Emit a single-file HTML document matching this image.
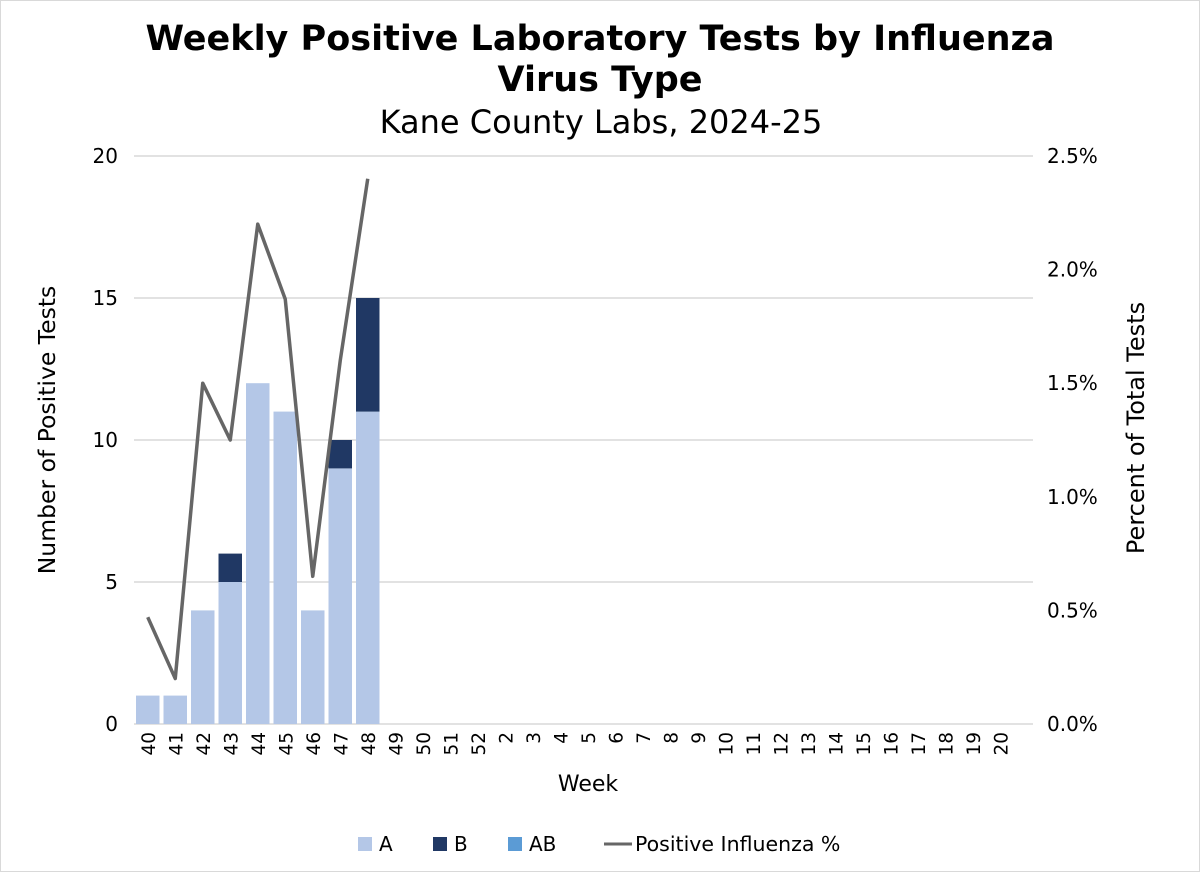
<!DOCTYPE html>
<html><head><meta charset="utf-8"><style>
body{margin:0;background:#fff;font-family:"DejaVu Sans","Liberation Sans",sans-serif;}
#wrap{position:relative;width:1198px;height:870px;border:1px solid #d9d9d9;}
</style></head><body>
<div id="wrap">
<svg id="chart" width="1198" height="870" xmlns="http://www.w3.org/2000/svg">
<text x="599" y="49" text-anchor="middle" font-size="35" font-weight="bold" fill="#000">Weekly Positive Laboratory Tests by Influenza</text>
<text x="599" y="90" text-anchor="middle" font-size="35" font-weight="bold" fill="#000">Virus Type</text>
<text x="600" y="132" text-anchor="middle" font-size="32" fill="#000">Kane County Labs, 2024-25</text>
<g id="grid"></g><g id="bars"></g><g id="line"></g><g id="axes"></g>
<text transform="translate(54,429) rotate(-90)" text-anchor="middle" font-size="23.5" fill="#000">Number of Positive Tests</text>
<text transform="translate(1143,427) rotate(-90)" text-anchor="middle" font-size="24" fill="#000">Percent of Total Tests</text>
<text x="587" y="790" text-anchor="middle" font-size="22" fill="#000">Week</text>
<g>
<g><rect x="357" y="836" width="14" height="14" fill="#b4c7e7"/><text x="378" y="850" font-size="20">A</text></g>
<g><rect x="432" y="836" width="14" height="14" fill="#203864"/><text x="453" y="850" font-size="20">B</text></g>
<g><rect x="507" y="836" width="14" height="14" fill="#5b9bd5"/><text x="528" y="850" font-size="20">AB</text></g>
<g><line x1="603" y1="843" x2="631" y2="843" stroke="#666" stroke-width="3"/><text x="634" y="850" font-size="20.5">Positive Influenza %</text></g>
</g>
</svg></div>
<script>
const weeks=["40","41","42","43","44","45","46","47","48","49","50","51","52","2","3","4","5","6","7","8","9","10","11","12","13","14","15","16","17","18","19","20"];
const seriesA=[1,1,4,5,12,11,4,9,11];
const seriesB=[0,0,0,1,0,0,0,1,4];
const seriesAB=[0,0,0,0,0,0,0,0,0];
const pctPositive=[0.47,0.2,1.5,1.25,2.2,1.87,0.65,1.6,2.4];
const yTicks=[0,5,10,15,20];
const y2Ticks=["0.0%","0.5%","1.0%","1.5%","2.0%","2.5%"];
const NS="http://www.w3.org/2000/svg";
const L=133,R=1032,T=155,B=723,bw=27.5;
const y=v=>B-(v/20)*(B-T);
const y2=v=>B-(v/2.5)*(B-T);
const xc=i=>L+bw*i+bw/2;
function mk(t,a,p){const e=document.createElementNS(NS,t);for(const k in a)e.setAttribute(k,a[k]);p.appendChild(e);return e;}
const g=document.getElementById('grid'),ax=document.getElementById('axes'),bars=document.getElementById('bars'),ln=document.getElementById('line');
yTicks.forEach(v=>{const l=mk('line',{x1:L,x2:R,y1:y(v),y2:y(v),stroke:'#d9d9d9','stroke-width':1.5},g);


const t=mk('text',{x:117,y:y(v)+7,'text-anchor':'end','font-size':20},ax);t.textContent=v;

});
y2Ticks.forEach((s,i)=>{const t=mk('text',{x:1046,y:y2(i*0.5)+7,'font-size':20},ax);t.textContent=s;

});
weeks.forEach((w,i)=>{const t=mk('text',{transform:`translate(${xc(i)+7},${B+8}) rotate(-90)`,'text-anchor':'end','font-size':18.5},ax);t.textContent=w;

});
seriesA.forEach((a,i)=>{const b=seriesB[i],ab=seriesAB[i],x=xc(i)-11.75;
const r1=mk('rect',{x:x,y:y(a),width:23.5,height:B-y(a),fill:'#b4c7e7'},bars);


if(b>0){const r2=mk('rect',{x:x,y:y(a+b),width:23.5,height:y(a)-y(a+b),fill:'#203864'},bars);

}
if(ab>0){const r3=mk('rect',{x:x,y:y(a+b+ab),width:23.5,height:y(a+b)-y(a+b+ab),fill:'#5b9bd5'},bars);

}});
const pl=mk('polyline',{points:pctPositive.map((p,i)=>xc(i)+','+y2(p)).join(' '),fill:'none',stroke:'#666','stroke-width':3.5,'stroke-linejoin':'round'},ln);


</script>
</body></html>
